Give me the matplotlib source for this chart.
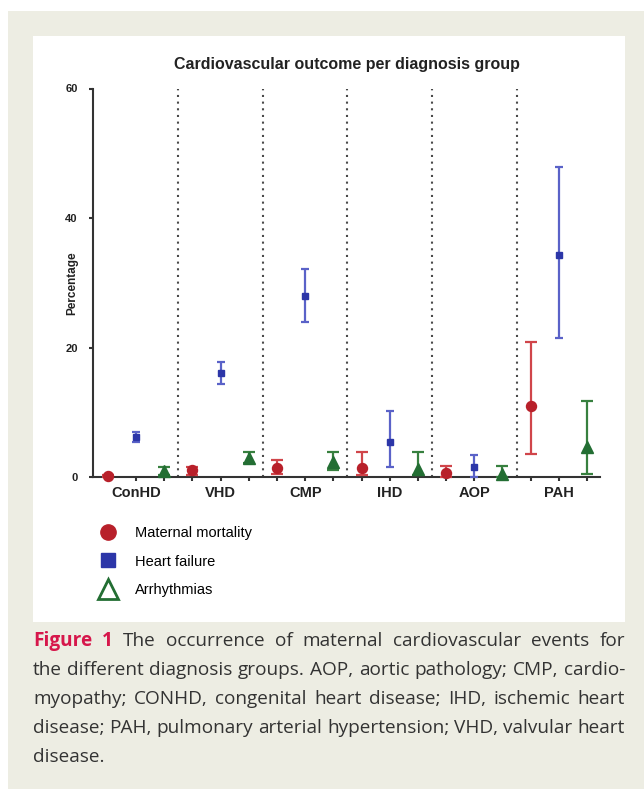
import numpy as np
import matplotlib
matplotlib.use('Agg')
import matplotlib.pyplot as plt
from matplotlib.lines import Line2D
from matplotlib.patches import Rectangle

# data (percentages, 95% CI)
groups = ['ConHD', 'VHD', 'CMP', 'IHD', 'AOP', 'PAH']

mortality = [0.2, 1.1, 1.4, 1.4, 0.6, 10.9]
mortality_lo = [0.0, 0.3, 0.5, 0.3, 0.0, 3.6]
mortality_hi = [0.3, 1.6, 2.6, 3.9, 1.7, 20.8]

heart_failure = [6.2, 16.0, 27.9, 5.4, 1.5, 34.3]
heart_failure_lo = [5.4, 14.4, 24.0, 1.6, 0.0, 21.4]
heart_failure_hi = [7.0, 17.8, 32.2, 10.2, 3.4, 47.9]

arrhythmia = [0.9, 3.0, 2.3, 1.2, 0.5, 4.7]
arrhythmia_lo = [0.3, 2.2, 1.1, 0.3, 0.0, 0.5]
arrhythmia_hi = [1.5, 3.9, 3.9, 3.9, 1.7, 11.7]

series_names = ['Maternal mortality', 'Heart failure', 'Arrhythmias']
y_ticks = [0, 20, 40, 60]

caption_lines = [
    'Figure 1 The occurrence of maternal cardiovascular events for',
    'the different diagnosis groups. AOP, aortic pathology; CMP, cardio-',
    'myopathy; CONHD, congenital heart disease; IHD, ischemic heart',
    'disease; PAH, pulmonary arterial hypertension; VHD, valvular heart',
    'disease.',
]

W, H = 644, 789
fig = plt.figure(figsize=(W / 100, H / 100), dpi=100)
fig.patch.set_facecolor('white')

# page background and white panel
fig.add_artist(Rectangle((8 / W, 0), 636 / W, 778 / H, transform=fig.transFigure,
                         facecolor='#EDEDE3', edgecolor='none', zorder=-10))
fig.add_artist(Rectangle((33 / W, 167 / H), 592 / W, 586 / H, transform=fig.transFigure,
                         facecolor='white', edgecolor='none', zorder=-9))

ax = fig.add_axes([93 / W, 312 / H, 507 / W, 388.5 / H])
ax.patch.set_alpha(0)

red, red_bar = '#B8202A', '#D0454A'
blue, blue_bar = '#2C36A8', '#5A62C8'
green, green_bar = '#236E33', '#37803F'

n = len(groups)
base = np.arange(n) * 3

def draw(offset, vals, lo, hi, mk, ms, col, bcol, cap):
    x = base + offset
    vals = np.array(vals)
    err = [vals - np.array(lo), np.array(hi) - vals]
    ax.errorbar(x, vals, yerr=err, fmt='none', ecolor=bcol, elinewidth=1.6,
                capsize=cap, capthick=1.6, clip_on=False, zorder=3)
    ax.plot(x, vals, ls='none', marker=mk, ms=ms, color=col, clip_on=False, zorder=4)

draw(0, mortality, mortality_lo, mortality_hi, 'o', 7.2, red, red_bar, 4.3)
draw(1, heart_failure, heart_failure_lo, heart_failure_hi, 's', 5, blue, blue_bar, 3)
draw(2, arrhythmia, arrhythmia_lo, arrhythmia_hi, '^', 8, green, green_bar, 4.6)

# dotted group separators
for b in base[1:]:
    ax.plot([b - 0.5, b - 0.5], [0, 60], color='#4a4a4a', lw=1.5,
            ls=(0, (1, 2.2)), zorder=1, clip_on=False)

ax.set_xlim(-0.53, 3 * n - 0.54)
ax.set_ylim(0, 60)
for s in ['top', 'right']:
    ax.spines[s].set_visible(False)
for s in ['left', 'bottom']:
    ax.spines[s].set_color('#333333')
    ax.spines[s].set_linewidth(1.5)

ax.set_yticks(y_ticks)
ax.set_yticklabels([str(v) for v in y_ticks], fontsize=8, fontweight='bold',
                   family='Liberation Sans', color='#222222')
ax.tick_params(axis='y', length=3, width=1.5, color='#333333', pad=8)

xt = np.arange(3 * n)
ax.set_xticks(xt)
ax.set_xticklabels([groups[i // 3] if i % 3 == 1 else '' for i in xt], fontsize=10.5,
                   fontweight='bold', family='Liberation Sans', color='#222222')
ax.tick_params(axis='x', length=3, width=1.5, color='#333333', pad=3.5)

fig.text(347 / W, 1 - 64 / H, 'Cardiovascular outcome per diagnosis group',
         ha='center', va='center', fontsize=11.5, fontweight='bold',
         family='Liberation Sans', color='#222222')
fig.text(72 / W, 1 - 283 / H, 'Percentage', rotation=90, ha='center', va='center',
         fontsize=8.5, fontweight='bold', family='Liberation Sans', color='#222222')

handles = [
    Line2D([], [], ls='none', marker='o', ms=11, color=red),
    Line2D([], [], ls='none', marker='s', ms=10.5, color=blue),
    Line2D([], [], ls='none', marker='^', ms=14, mfc='none', mec=green, mew=2),
]
fig.legend(handles, series_names, loc='upper left', bbox_to_anchor=(99 / W, 1 - 526 / H),
           frameon=False, borderpad=0, borderaxespad=0, handlelength=1.2,
           handletextpad=1.25, labelspacing=1.0,
           prop={'family': 'Liberation Sans', 'size': 10.5})

# caption, justified line by line
renderer = fig.canvas.get_renderer()
left_px, right_px = 33, 625
baselines = [646, 675, 704, 733, 762]
cap_family = 'Open Sans'

def make_line(i, size):
    texts = []
    for j, w in enumerate(caption_lines[i].split()):
        bold = (i == 0 and j < 2)
        t = fig.text(0, 1 - baselines[i] / H, w, fontsize=size, family=cap_family,
                     fontweight='bold' if bold else 'normal',
                     color='#D6174B' if bold else '#333333', va='baseline')
        texts.append(t)
    return texts, [t.get_window_extent(renderer).width for t in texts]

def space_width(size):
    a = fig.text(0, 0, 'a a', fontsize=size, family=cap_family)
    b = fig.text(0, 0, 'aa', fontsize=size, family=cap_family)
    w = a.get_window_extent(renderer).width - b.get_window_extent(renderer).width
    a.remove()
    b.remove()
    return w

# pick the font size so the widest line just fits the column
size0 = 13
sp0 = space_width(size0)
widest = 0
for i in range(len(caption_lines) - 1):
    texts, widths = make_line(i, size0)
    widest = max(widest, sum(widths) + sp0 * (len(widths) - 1))
    for t in texts:
        t.remove()
cap_size = size0 * (right_px - left_px - 4) / widest
space = space_width(cap_size)

for i in range(len(caption_lines)):
    texts, widths = make_line(i, cap_size)
    if i < len(caption_lines) - 1:
        gap = (right_px - left_px - sum(widths)) / (len(widths) - 1)
    else:
        gap = space
    x = left_px
    for t, w in zip(texts, widths):
        t.set_x(x / W)
        x += w + gap

fig.savefig('out.png', dpi=100)
